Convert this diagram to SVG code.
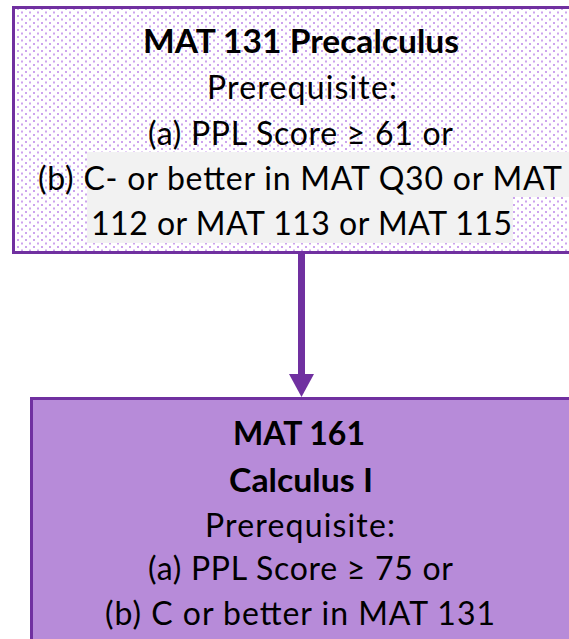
<svg xmlns="http://www.w3.org/2000/svg" width="569" height="639" viewBox="0 0 569 639">
<style>
.box{stroke:#7030a0;stroke-width:3}
.t{font-family:Lato,"Open Sans","Liberation Sans",sans-serif;font-size:32px;fill:#000;text-anchor:middle}
.b{font-weight:bold}
.hl{fill:#f2f2f2}
.conn{stroke:#7030a0;stroke-width:7;fill:none}
</style>
<defs>
<pattern id="dots" x="0" y="0" width="8" height="7" patternUnits="userSpaceOnUse">
<rect width="8" height="7" fill="#ffffff"/>
<rect x="1" y="1" width="2" height="2" fill="#cda4ee"/>
<rect x="5" y="4.5" width="2" height="2" fill="#cda4ee"/>
</pattern>
<marker id="ah" markerUnits="userSpaceOnUse" markerWidth="25" markerHeight="26" refX="1" refY="12.5" orient="auto">
<path d="M0,0 L23,12.5 L0,25 Z" fill="#7030a0"/>
</marker>
</defs>
<g id="connectors">
<path class="conn" d="M301.5,254 V375" marker-end="url(#ah)"/>
</g>
<g id="mat131">
<rect class="box" x="13.5" y="7.5" width="580" height="245" fill="url(#dots)"/>
<rect class="hl" x="87" y="152" width="485" height="45"/>
<rect class="hl" x="87" y="197" width="426" height="46"/>
<text class="t b" x="301" y="53" textLength="316" lengthAdjust="spacingAndGlyphs">MAT 131 Precalculus</text>
<text class="t" x="302" y="99" textLength="190" lengthAdjust="spacing">Prerequisite:</text>
<text class="t" x="300.5" y="145" textLength="305" lengthAdjust="spacing">(a) PPL Score ≥ 61 or</text>
<text class="t" x="300" y="190" textLength="524" lengthAdjust="spacing">(b) C- or better in MAT Q30 or MAT</text>
<text class="t" x="301.5" y="235" textLength="421" lengthAdjust="spacing">112 or MAT 113 or MAT 115</text>
</g>
<g id="mat161">
<rect class="box" x="31.5" y="398.5" width="545" height="260" fill="#b78bd9"/>
<text class="t b" x="299" y="445" textLength="132" lengthAdjust="spacingAndGlyphs">MAT 161</text>
<text class="t b" x="301" y="492" textLength="144" lengthAdjust="spacingAndGlyphs">Calculus I</text>
<text class="t" x="300" y="537" textLength="190" lengthAdjust="spacing">Prerequisite:</text>
<text class="t" x="300.5" y="580" textLength="305" lengthAdjust="spacing">(a) PPL Score ≥ 75 or</text>
<text class="t" x="300" y="625" textLength="390" lengthAdjust="spacing">(b) C or better in MAT 131</text>
</g>
</svg>
